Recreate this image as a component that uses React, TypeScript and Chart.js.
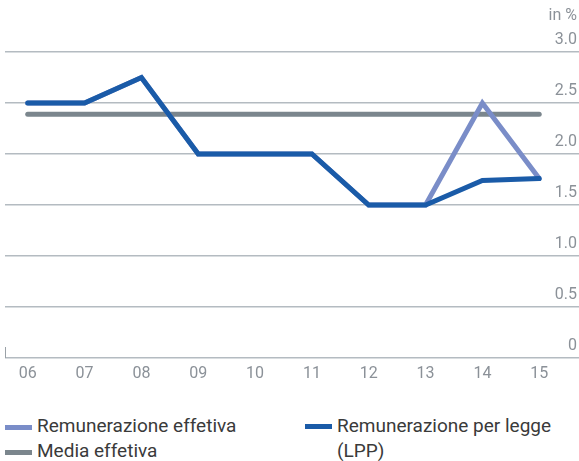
import React, { useEffect, useRef } from "react";
import { Chart, registerables } from "chart.js";

Chart.register(...registerables);

const years = ["06", "07", "08", "09", "10", "11", "12", "13", "14", "15"];
const lppValues = [2.5, 2.5, 2.75, 2.0, 2.0, 2.0, 1.5, 1.5, 1.74, 1.76];
const effectiveValues = [2.5, 2.5, 2.75, 2.0, 2.0, 2.0, 1.5, 1.5, 2.5, 1.76];
const averageValues = [2.39, 2.39, 2.39, 2.39, 2.39, 2.39, 2.39, 2.39, 2.39, 2.39];
const yTicks = [0, 0.5, 1.0, 1.5, 2.0, 2.5, 3.0];

const LIGHT = "#7a8dc8";
const DARK = "#1a5ba8";
const GREY = "#7b868d";
const FONT = "Roboto, 'Liberation Sans', sans-serif";

const toPoints = (vals: number[]) => vals.map((v, i) => ({ x: i, y: v }));

const leftTick = {
  id: "leftTick",
  afterDraw(chart: any) {
    const { ctx, chartArea } = chart;
    ctx.save();
    ctx.strokeStyle = "#9aa1a7";
    ctx.lineWidth = 1;
    ctx.beginPath();
    ctx.moveTo(chartArea.left + 0.5, chartArea.bottom - 11);
    ctx.lineTo(chartArea.left + 0.5, chartArea.bottom);
    ctx.stroke();
    ctx.restore();
  },
};

export default function App() {
  const ref = useRef<HTMLCanvasElement>(null);
  useEffect(() => {
    if (!ref.current) return;
    const chart = new Chart(ref.current, {
      type: "line",
      data: {
        datasets: [
          {
            label: "Remunerazione per legge (LPP)",
            data: toPoints(lppValues),
            borderColor: DARK,
            borderWidth: 5,
            pointRadius: 0,
            borderJoinStyle: "miter",
            borderCapStyle: "round",
            tension: 0,
          },
          {
            label: "Remunerazione effetiva",
            data: toPoints(effectiveValues),
            borderColor: LIGHT,
            borderWidth: 5,
            pointRadius: 0,
            borderJoinStyle: "miter",
            borderCapStyle: "round",
            tension: 0,
          },
          {
            label: "Media effetiva",
            data: toPoints(averageValues),
            borderColor: GREY,
            borderWidth: 5,
            pointRadius: 0,
            borderCapStyle: "round",
            tension: 0,
          },
        ],
      },
      options: {
        animation: false,
        responsive: false,
        devicePixelRatio: 1,
        layout: { padding: { left: 5, top: 52, right: 0, bottom: 0 } },
        plugins: { legend: { display: false }, tooltip: { enabled: false } },
        scales: {
          x: {
            type: "linear",
            min: -0.4,
            max: 9.7,
            afterBuildTicks: (s: any) => {
              s.ticks = years.map((_, i) => ({ value: i }));
            },
            afterFit: (s: any) => {
              s.height = 42;
            },
            grid: { display: false, drawTicks: false },
            border: { display: false },
            ticks: {
              autoSkip: false,
              maxRotation: 0,
              padding: 6,
              color: "#8b9198",
              font: { family: FONT, size: 16 },
              callback: (v: any) => years[Math.round(Number(v))] ?? "",
            },
          },
          y: {
            position: "right",
            min: 0,
            max: 3,
            afterBuildTicks: (s: any) => {
              s.ticks = yTicks.map((v) => ({ value: v }));
            },
            afterFit: (s: any) => {
              s.width = 0;
            },
            grid: { color: "#b4bbc1", lineWidth: 1.5, drawTicks: false },
            border: { display: false },
            ticks: {
              mirror: true,
              padding: -2,
              labelOffset: -12,
              color: "#8b9198",
              font: { family: FONT, size: 16 },
              callback: (v: any) => (Number(v) === 0 ? "0" : Number(v).toFixed(1)),
            },
          },
        },
      },
      plugins: [leftTick],
    } as any);
    return () => chart.destroy();
  }, []);

  const swatch = (color: string) => (
    <span
      style={{
        display: "inline-block",
        width: 27,
        height: 5,
        background: color,
        marginRight: 5,
        verticalAlign: "middle",
        position: "relative",
        top: 1,
      }}
    />
  );

  const textStyle: React.CSSProperties = {
    fontFamily: FONT,
    fontSize: 19,
    color: "#3a3a3a",
    lineHeight: "25px",
  };

  return (
    <div style={{ position: "absolute", left: 0, top: 0, width: 579, height: 461, overflow: "hidden", background: "#fff" }}>
      <canvas ref={ref} width={579} height={400} style={{ display: "block" }} />
      <div style={{ position: "absolute", right: 2, top: 5, fontFamily: FONT, fontSize: 16, color: "#8b9198" }}>in %</div>
      <div style={{ position: "absolute", left: 5, top: 413, ...textStyle }}>
        <div style={{ whiteSpace: "nowrap" }}>{swatch(LIGHT)}Remunerazione effetiva</div>
        <div style={{ whiteSpace: "nowrap" }}>{swatch(GREY)}Media effetiva</div>
      </div>
      <div style={{ position: "absolute", left: 305, top: 413, ...textStyle, display: "flex" }}>
        <div style={{ height: 25, display: "flex", alignItems: "center" }}>{swatch(DARK)}</div>
        <div style={{ width: 240 }}>Remunerazione per legge (LPP)</div>
      </div>
    </div>
  );
}
